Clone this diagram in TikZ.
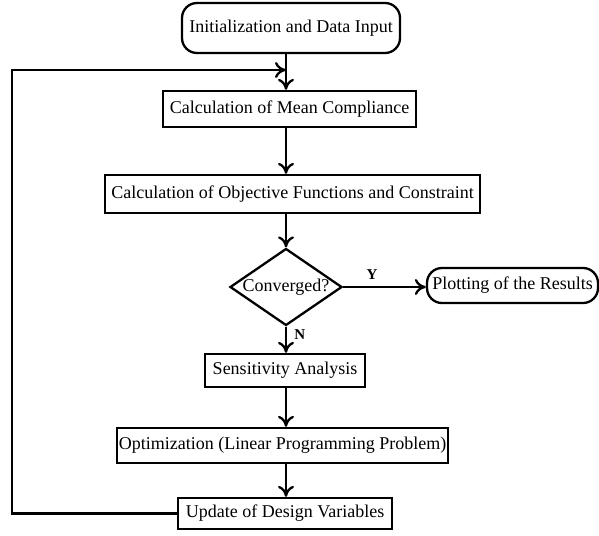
\documentclass[tikz,border=0pt]{standalone}
\usepackage{fontspec}
\setmainfont{Liberation Serif}
\usetikzlibrary{shapes.geometric,arrows.meta}

\tikzset{
  process/.style={draw, rectangle, line width=2.3pt, inner sep=0pt},
  terminal/.style={draw, rectangle, rounded corners=15pt, line width=2.3pt, inner sep=0pt},
  decision/.style={draw, diamond, line width=2.3pt, inner sep=0pt, minimum width=112pt, minimum height=77pt},
  flow/.style={-{To[length=11pt,width=16pt]}, line width=2.3pt},
  yn/.style={font=\fontsize{15}{17}\selectfont\bfseries}
}

\begin{document}
\begin{tikzpicture}[x=1pt, y=-1pt, every node/.style={font=\fontsize{18}{20}\selectfont}]
    \useasboundingbox (0,0) rectangle (599,535);

    % Start
    \node[terminal, minimum width=218pt, minimum height=50pt] (init) at (291,28) {Initialization and Data Input};

    % Main loop
    \node[process, minimum width=253pt, minimum height=36pt] (mean) at (289.5,109) {Calculation of Mean Compliance};
    \node[process, minimum width=375pt, minimum height=38pt] (obj) at (292.5,194) {Calculation of Objective Functions and Constraint};
    \node[decision, label=center:Converged?] (conv) at (286,287) {};
    \node[process, minimum width=160pt, minimum height=33pt] (sens) at (285,370.5) {Sensitivity Analysis};
    \node[process, minimum width=331pt, minimum height=35pt] (opt) at (282.5,445.5) {Optimization (Linear Programming Problem)};
    \node[process, minimum width=214pt, minimum height=31pt] (upd) at (285,513.5) {Update of Design Variables};

    % End
    \node[terminal, minimum width=171pt, minimum height=35pt] (plot) at (512.5,285.5) {Plotting of the Results};

    % Arrows
    \coordinate (spine) at (286,0);
    \draw[flow] (spine |- init.south) -- (spine |- mean.north);
    \draw[flow] (spine |- mean.south) -- (spine |- obj.north);
    \draw[flow] (spine |- obj.south) -- (conv.north);
    \draw[flow] (conv.east) -- (conv.east -| plot.west) node[pos=0.35, above, yshift=3pt, yn] {Y};
    \draw[flow] (conv.south) -- (spine |- sens.north) node[pos=0.3, right, xshift=4pt, yn] {N};
    \draw[flow] (spine |- sens.south) -- (spine |- opt.north);
    \draw[flow] (spine |- opt.south) -- (spine |- upd.north);

    % Feedback loop
    \coordinate (loop) at (12,70);
    \coordinate (merge) at (286,70);
    \draw[flow] (upd.west) -| (loop) -- (merge);
\end{tikzpicture}
\end{document}
